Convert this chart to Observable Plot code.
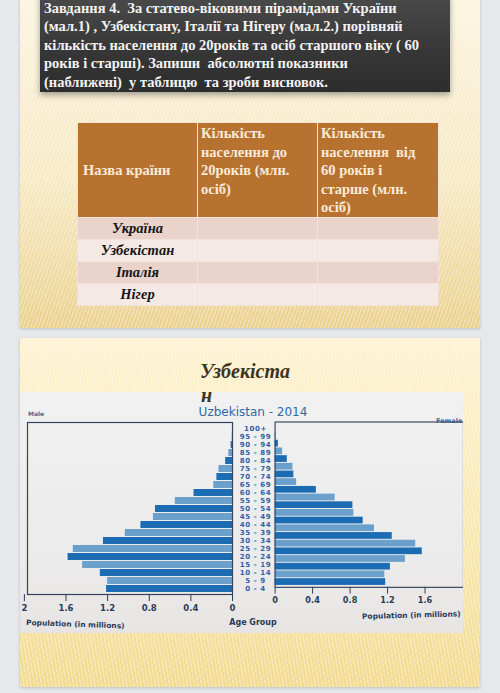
<!DOCTYPE html>
<html><head><meta charset="utf-8">
<script src="https://cdn.jsdelivr.net/npm/d3@7"></script>
<script src="https://cdn.jsdelivr.net/npm/@observablehq/plot@0.6"></script>
<style>
html,body{margin:0;padding:0;}
body{width:500px;height:693px;background:#e6e8ec;position:relative;overflow:hidden;font-family:"Liberation Serif",serif;}
.slide{position:absolute;left:20px;width:460px;box-shadow:0 1px 3px rgba(0,0,0,0.18);}
#s1{top:-4px;height:332px;background:
 repeating-linear-gradient(110deg, rgba(255,255,255,0.30) 0 1.5px, rgba(255,255,255,0) 1.5px 3.5px),
 linear-gradient(180deg,#fbf4df 0%,#f7e9c3 55%,#ebd18e 100%);}
#s2{top:338px;height:349px;background:
 repeating-linear-gradient(80deg, rgba(255,255,255,0.30) 0 1.5px, rgba(255,255,255,0) 1.5px 3.5px),
 linear-gradient(180deg,#fdf2d2 0%,#f9e7ad 60%,#f2da90 100%);}
#task{position:absolute;left:40px;top:-6px;width:410px;height:98px;box-sizing:border-box;padding:5px 0 0 4px;
 background:linear-gradient(180deg,#4b4b4b,#363636 60%,#2d2d2d);box-shadow:0 3px 6px rgba(0,0,0,0.35);
 color:#f3f3f3;font-weight:bold;font-size:14.5px;line-height:18.4px;white-space:nowrap;}
#tbl{position:absolute;left:77px;top:122px;width:361px;border-collapse:collapse;table-layout:fixed;}
#tbl td,#tbl th{border:1px solid #f1e3da;padding:0;}
#tbl th{background:#b8722f;color:#f8ead9;font-weight:bold;font-size:14.5px;line-height:18.5px;text-align:left;vertical-align:top;height:92px;padding:1px 3px 0 3px;}
#tbl th.first{vertical-align:middle;padding-left:5px;}
#tbl td{font-size:14.5px;font-weight:bold;font-style:italic;color:#151515;text-align:center;height:21px;line-height:21px;}
#tbl tr.odd td{background:#e9d3cb;}
#tbl tr.even td{background:#f4e9e5;}
#title2{position:absolute;left:20px;top:360px;width:450px;text-align:center;font-weight:bold;font-style:italic;font-size:20px;color:#3d3420;}
#title2b{position:absolute;left:201px;top:384px;font-weight:bold;font-style:italic;font-size:20px;color:#3d3420;z-index:5;}
#chart{position:absolute;left:20px;top:392px;width:443px;height:241px;overflow:hidden;
 background:linear-gradient(180deg,#f1f1f1,#ecebeb 70%,#e7e5e4);}
.pl{position:absolute;}
.lbl{position:absolute;font-family:"DejaVu Sans",sans-serif;white-space:nowrap;}
#left g[aria-label="y-axis tick label"] text{letter-spacing:0.6px;}
</style></head>
<body>
<div class="slide" id="s1"></div>
<div class="slide" id="s2"></div>
<div id="task"></div>
<table id="tbl"></table>
<div id="title2"></div>
<div id="title2b"></div>
<div id="chart">
  <div class="lbl" style="left:8px;top:18px;font-size:6px;font-weight:bold;color:#4a6a95;">Male</div>
  <div class="lbl" id="ctitle" style="left:0;width:466px;text-align:center;top:13px;font-size:12px;color:#2d6aa8;"></div>
  <div class="lbl" style="left:416px;top:25px;font-size:6.5px;font-weight:bold;color:#3a6aa5;">Female</div>
  <div class="lbl" style="left:6px;top:226px;font-size:7.5px;font-weight:bold;color:#2b3b58;transform:rotate(2deg);transform-origin:left;">Population (in millions)</div>
  <div class="lbl" style="left:206px;top:226px;width:54px;text-align:center;font-size:8px;font-weight:bold;color:#2b3b58;">Age Group</div>
  <div class="lbl" style="left:342px;top:220px;font-size:7.5px;font-weight:bold;color:#2b3b58;transform:rotate(-1.5deg);transform-origin:left;">Population (in millions)</div>
  <div class="pl" id="left" style="left:0;top:18px;"></div>
  <div class="pl" id="right" style="left:245px;top:18px;"></div>
</div>
<script>
// ---- text data ----
const taskLines = [
  "Завдання 4.  За статево-віковими пірамідами України",
  "(мал.1) , Узбекістану, Італії та Нігеру (мал.2.) порівняй",
  "кількість населення до 20років та осіб старшого віку ( 60",
  "років і старші). Запиши  абсолютні показники",
  "(наближені)  у таблицю  та зроби висновок."
];
const headerCols = [
  ["Назва країни"],
  ["Кількість", "населення до", "20років (млн.", "осіб)"],
  ["Кількість", "населення  від", "60 років і", "старше (млн.", "осіб)"]
];
const countries = ["Україна", "Узбекістан", "Італія", "Нігер"];
const chartTitle = "Uzbekistan - 2014";

// ---- pyramid data (millions) ----
const ages = ["0 - 4","5 - 9","10 - 14","15 - 19","20 - 24","25 - 29","30 - 34","35 - 39","40 - 44","45 - 49","50 - 54","55 - 59","60 - 64","65 - 69","70 - 74","75 - 79","80 - 84","85 - 89","90 - 94","95 - 99","100+"];
const male   = [1.21,1.20,1.27,1.44,1.58,1.53,1.24,1.03,0.88,0.76,0.74,0.55,0.37,0.18,0.15,0.13,0.066,0.035,0.013,0.003,0];
const female = [1.18,1.17,1.23,1.39,1.57,1.50,1.25,1.06,0.94,0.84,0.83,0.64,0.44,0.23,0.20,0.19,0.13,0.08,0.035,0.006,0];
const xTicksLeft = [0,0.4,0.8,1.2,1.6,2];
const xTicksRight = [0,0.4,0.8,1.2,1.6];

// ---- build texts ----
document.getElementById("task").innerHTML = taskLines.map(l => `<div>${l.replace(/  /g,"&nbsp; ")}</div>`).join("");
const tbl = document.getElementById("tbl");
let html = "<colgroup><col style='width:120px'><col style='width:120px'><col style='width:121px'></colgroup><tr>";
headerCols.forEach((lines,i) => {
  html += `<th class="${i===0?'first':''}">${lines.map(l=>l.replace(/  /g,"&nbsp; ")).join("<br>")}</th>`;
});
html += "</tr>";
countries.forEach((c,i) => {
  html += `<tr class="${i%2===0?'odd':'even'}"><td>${c}</td><td></td><td></td></tr>`;
});
tbl.innerHTML = html;
document.getElementById("title2").textContent = "Узбекіста";
document.getElementById("title2b").textContent = "н";
document.getElementById("ctitle").textContent = chartTitle;

// ---- pyramid ----
const rows = ages.map((a,i) => ({age:a, male:male[i], female:female[i], i}));
const yDomain = ages.slice().reverse();
const dark = "#1c6cb4", light = "#6b9fcc", ink = "#2b3b58", frameC = "#34445e";
const common = {
  height: 206, marginTop: 12, marginBottom: 22,
  style: {background: "transparent", overflow: "visible", fontFamily: "DejaVu Sans"},
  y: {domain: yDomain, padding: 0.16}
};
const leftPlot = Plot.plot({
  ...common,
  width: 255, marginLeft: 7, marginRight: 43,
  x: {domain: [0, 1.97], reverse: true},
  marks: [
    Plot.barX(rows.filter(d => d.i % 2 === 0), {x: "male", y: "age", fill: dark}),
    Plot.barX(rows.filter(d => d.i % 2 === 1), {x: "male", y: "age", fill: light}),
    Plot.frame({stroke: frameC, strokeWidth: 1.2}),
    Plot.axisX({ticks: xTicksLeft, tickFormat: d => String(d), tickSize: 7, tickPadding: 3, fontSize: 8.5, fontWeight: "bold", color: ink, label: null}),
    Plot.axisY({anchor: "right", tickSize: 0, tickPadding: 0, dx: 23, textAnchor: "middle", fontSize: 7, fontWeight: "bold", color: "#2a63a8", label: null})
  ]
});
document.getElementById("left").appendChild(leftPlot);
const rightPlot = Plot.plot({
  ...common,
  y: {...common.y, axis: null},
  width: 206, marginLeft: 10, marginRight: 0,
  x: {domain: [0, 2.01]},
  marks: [
    Plot.barX(rows.filter(d => d.i % 2 === 0), {x: "female", y: "age", fill: dark}),
    Plot.barX(rows.filter(d => d.i % 2 === 1), {x: "female", y: "age", fill: light}),
    Plot.frame({stroke: frameC, strokeWidth: 1.2}),
    Plot.axisX({ticks: xTicksRight, tickFormat: d => String(d), tickSize: 7, tickPadding: 3, fontSize: 8.5, fontWeight: "bold", color: ink, label: null})
  ]
});
document.getElementById("right").appendChild(rightPlot);
</script>
</body></html>
